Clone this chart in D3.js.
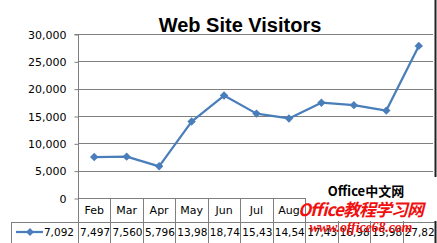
<!DOCTYPE html>
<html><head><meta charset="utf-8">
<script src="https://cdn.jsdelivr.net/npm/d3@7"></script>
<style>html,body{margin:0;padding:0;background:#fff;overflow:hidden}</style>
</head><body>
<script>
const months = ["Jan","Feb","Mar","Apr","May","Jun","Jul","Aug","Sep","Oct","Nov","Dec"];
const visitors = [7092,7497,7560,5796,13985,18745,15435,14545,17435,16985,15985,27825];
const yTicks = [0,5000,10000,15000,20000,25000,30000];
const title = "Web Site Visitors";

const W = 437, H = 243;
const M = {left:78, right:435, top:34, bottom:198};
const catNames = months.slice(1);
const plotVals = visitors.slice(1);
const patchX = 306;

const svg = d3.select("body").append("svg").attr("width", W).attr("height", H);
svg.append("rect").attr("width", W).attr("height", H).attr("fill", "#fff");

const x = d3.scaleBand().domain(catNames).range([M.left, M.right]);
const y = d3.scaleLinear().domain([0, 30000]).range([M.bottom, M.top]);

// gridlines
svg.append("g").selectAll("line").data(yTicks).join("line")
  .attr("x1", M.left).attr("x2", M.right - 2)
  .attr("y1", d => Math.round(y(d)) + 0.5).attr("y2", d => Math.round(y(d)) + 0.5)
  .attr("stroke", "#7f7f7f").attr("stroke-width", 1);

// y axis
const yAxis = d3.axisLeft(y).tickValues(yTicks).tickFormat(d3.format(",")).tickSize(4).tickPadding(8);
const ya = svg.append("g").attr("transform", `translate(${M.left + 0.5},0.5)`).call(yAxis);
ya.selectAll(".tick line").attr("stroke", "#7f7f7f");
ya.selectAll("text").attr("font-family", "DejaVu Sans").attr("font-size", 11).attr("fill", "#000");
ya.select(".domain").attr("stroke", "#7f7f7f").attr("d", `M-4,${M.top}H0V${H + 5}`);

// data table
const rowTop = M.bottom, rowMid = 222, rowBot = H + 5;
const tbl = svg.append("g").attr("stroke", "#7f7f7f").attr("stroke-width", 1);
const bounds = catNames.map(c => x(c)).concat([M.right]);
tbl.selectAll("line.v").data(bounds).join("line").attr("class", "v")
  .attr("x1", d => Math.round(d) + 0.5).attr("x2", d => Math.round(d) + 0.5)
  .attr("y1", rowTop).attr("y2", rowBot);
tbl.append("line").attr("x1", 11).attr("x2", M.right).attr("y1", rowMid + 0.5).attr("y2", rowMid + 0.5);
tbl.append("line").attr("x1", 11.5).attr("x2", 11.5).attr("y1", rowMid).attr("y2", rowBot);

// category labels (those under the watermark are hidden in the reference)
svg.append("g").selectAll("text").data(catNames.filter(c => x(c) < patchX)).join("text")
  .attr("x", d => x(d) + x.bandwidth() / 2).attr("y", 214)
  .attr("text-anchor", "middle").attr("font-family", "DejaVu Sans").attr("font-size", 11)
  .attr("fill", "#000").text(d => d);

// table values (clipped)
const fmt = d3.format(",");
const defs = svg.append("defs");
catNames.forEach((c, i) => {
  defs.append("clipPath").attr("id", "cc" + i).append("rect")
    .attr("x", x(c) + 1).attr("y", rowMid).attr("width", x.bandwidth() - 1).attr("height", rowBot - rowMid);
});
svg.append("g").selectAll("text").data(plotVals).join("text")
  .attr("clip-path", (d, i) => `url(#cc${i})`)
  .attr("x", (d, i) => x(catNames[i]) + 2).attr("y", 236)
  .attr("font-family", "DejaVu Sans").attr("font-size", 10.5).attr("fill", "#000")
  .text(d => fmt(d));

// legend key + first value
const lineColor = "#4A7EBB";
svg.append("line").attr("x1", 16).attr("x2", 43).attr("y1", 232).attr("y2", 232)
  .attr("stroke", lineColor).attr("stroke-width", 2.25);
svg.append("path").attr("d", d3.symbol(d3.symbolDiamond2, 40)()).attr("transform", "translate(30,232)")
  .attr("fill", lineColor);
svg.append("text").attr("x", 74).attr("y", 236).attr("text-anchor", "end")
  .attr("font-family", "DejaVu Sans").attr("font-size", 10.5).attr("fill", "#000")
  .text(fmt(visitors[0]));

// line series
const line = d3.line().x((d, i) => x(catNames[i]) + x.bandwidth() / 2).y(d => y(d));
svg.append("path").datum(plotVals).attr("d", line).attr("fill", "none")
  .attr("stroke", lineColor).attr("stroke-width", 2.25).attr("stroke-linejoin", "round");
svg.append("g").selectAll("path").data(plotVals).join("path")
  .attr("d", d3.symbol(d3.symbolDiamond2, 45)())
  .attr("transform", (d, i) => `translate(${x(catNames[i]) + x.bandwidth() / 2},${y(d)})`)
  .attr("fill", lineColor);

// title
svg.append("text").attr("x", 240).attr("y", 32).attr("text-anchor", "middle")
  .attr("font-family", "Liberation Sans").attr("font-weight", "bold").attr("font-size", 20)
  .attr("fill", "#000").text(title);

// chart border (right)
svg.append("line").attr("x1", 435.5).attr("x2", 435.5).attr("y1", 0).attr("y2", H)
  .attr("stroke", "#222").attr("stroke-width", 2);

// watermark
svg.append("rect").attr("x", patchX).attr("y", 177).attr("width", 131).attr("height", 44).attr("fill", "#fff");
svg.append("text").attr("x", 366).attr("y", 196).attr("text-anchor", "middle")
  .attr("font-family", "Noto Sans CJK SC").attr("font-weight", "bold").attr("font-size", 13)
  .attr("fill", "#000").text("Office中文网");
svg.append("text").attr("x", 361).attr("y", 216).attr("text-anchor", "middle")
  .attr("font-family", "Noto Sans CJK SC").attr("font-style", "italic").attr("font-weight", "bold")
  .attr("font-size", 17).attr("fill", "#f01010").attr("textLength", 126).text("Office教程学习网");
svg.append("text").attr("x", 361).attr("y", 232).attr("text-anchor", "middle")
  .attr("font-family", "Liberation Serif").attr("font-style", "italic").attr("font-weight", "bold")
  .attr("font-size", 14).attr("fill", "#f01010").attr("textLength", 103).text("www.office68.com");
</script>
</body></html>
